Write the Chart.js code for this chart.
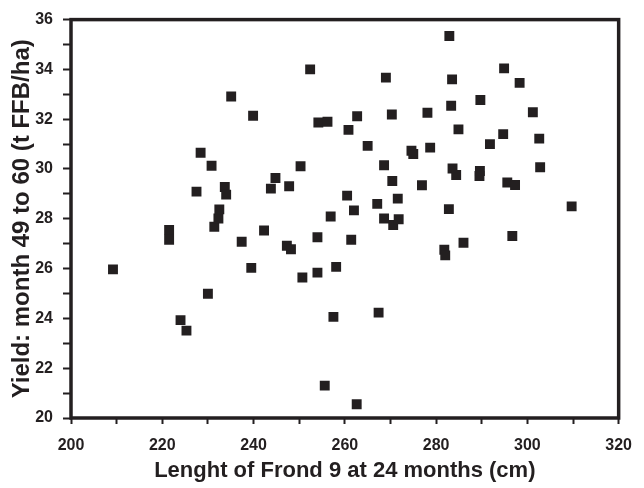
<!DOCTYPE html>
<html>
<head>
<meta charset="utf-8">
<script src="https://cdn.jsdelivr.net/npm/chart.js@4/dist/chart.umd.min.js"></script>
<style>
  html, body { margin: 0; padding: 0; background: #fff; }
  #grafico { display: block; }
</style>
</head>
<body>
<canvas id="grafico" width="644" height="488"></canvas>
<script>
// frond 9 length at 24 months (cm) and yield for months 49-60 (t FFB/ha)
const frondLength = [
    209.2, 221.5, 221.5, 224.0, 225.3, 227.5, 228.4, 230.0, 230.8, 231.4,
    232.3, 232.5, 233.7, 234.0, 235.1, 237.4, 239.5, 239.9, 242.3, 243.8,
    244.8, 247.3, 247.8, 248.2, 250.3, 250.7, 252.4, 254.0, 254.0, 254.2,
    255.6, 256.2, 256.9, 257.5, 258.1, 260.5, 260.8, 261.4, 262.0, 262.6,
    262.7, 265.0, 267.1, 267.4, 268.6, 268.6, 269.0, 270.3, 270.4, 270.6,
    271.6, 271.8, 274.6, 275.0, 276.9, 278.1, 278.7, 281.8, 282.0, 282.8,
    282.9, 283.3, 283.5, 283.6, 284.4, 284.9, 286.0, 289.5, 289.6, 289.7,
    291.8, 294.7, 294.9, 295.6, 296.7, 297.3, 298.3, 301.2, 302.6, 302.8,
    309.7
];
const yieldValues = [
    25.97, 27.55, 27.16, 23.93, 23.51, 29.09, 30.65, 24.99, 30.13, 27.68,
    28.01, 28.38, 29.28, 28.97, 32.91, 27.08, 26.03, 32.14, 27.53, 29.21,
    29.64, 26.92, 29.31, 26.78, 30.11, 25.64, 34.00, 27.26, 25.84, 31.87,
    21.30, 31.90, 28.09, 24.06, 26.07, 28.93, 31.57, 27.16, 28.34, 20.55,
    32.12, 30.93, 28.60, 24.23, 30.15, 28.01, 33.67, 32.19, 29.52, 27.75,
    28.81, 27.98, 30.73, 30.60, 29.35, 32.26, 30.86, 26.76, 26.53, 28.39,
    35.34, 32.54, 33.60, 30.02, 29.76, 31.59, 27.04, 29.72, 29.92, 32.77,
    31.00, 31.40, 34.04, 29.46, 27.31, 29.36, 33.46, 32.28, 31.22, 30.07,
    28.50
];

// axis ranges and labelled ticks
const xMin = 200, xMax = 320, xStep = 10;
const xLabels = [200, 220, 240, 260, 280, 300, 320];
const yMin = 20, yMax = 36, yStep = 1;
const yLabels = [20, 22, 24, 26, 28, 30, 32, 34, 36];

const tituloX = 'Lenght of Frond 9 at 24 months (cm)';
const tituloY = 'Yield: month 49 to 60 (t FFB/ha)';

const corTexto = '#231f20';

const pontos = frondLength.map((x, i) => ({ x: x, y: yieldValues[i] }));

// closed frame around the plot area
const moldura = {
    id: 'moldura',
    beforeDatasetsDraw(chart) {
        const { ctx, chartArea: a } = chart;
        ctx.save();
        ctx.strokeStyle = corTexto;
        ctx.lineWidth = 3.5;
        ctx.strokeRect(a.left, a.top, a.right - a.left, a.bottom - a.top);
        ctx.restore();
    }
};

const ctx = document.getElementById('grafico').getContext('2d');
new Chart(ctx, {
    type: 'scatter',
    data: {
        datasets: [{
            data: pontos,
            pointStyle: 'rect',
            pointRadius: 7,
            pointHoverRadius: 7,
            backgroundColor: corTexto,
            borderWidth: 0
        }]
    },
    options: {
        responsive: false,
        animation: false,
        devicePixelRatio: 1,
        layout: { padding: { top: 12, right: 23, left: 0, bottom: 0 } },
        plugins: { legend: { display: false }, tooltip: { enabled: false } },
        scales: {
            x: {
                type: 'linear',
                min: xMin,
                max: xMax,
                afterFit(scale) { scale.height = 70; },
                border: { display: false },
                grid: {
                    drawOnChartArea: false,
                    drawTicks: true,
                    tickLength: 6,
                    tickWidth: 2,
                    tickColor: corTexto
                },
                ticks: {
                    stepSize: xStep,
                    autoSkip: false,
                    maxRotation: 0,
                    padding: 12,
                    color: corTexto,
                    font: { family: 'Liberation Sans, Arial, sans-serif', size: 16, weight: 'bold' },
                    callback: v => xLabels.includes(v) ? String(v) : ''
                },
                title: {
                    display: true,
                    text: tituloX,
                    color: corTexto,
                    padding: { top: 0, bottom: 4 },
                    font: { family: 'Liberation Sans, Arial, sans-serif', size: 22, weight: 'bold' }
                }
            },
            y: {
                type: 'linear',
                min: yMin,
                max: yMax,
                afterFit(scale) { scale.width = 71; },
                border: { display: false },
                grid: {
                    drawOnChartArea: false,
                    drawTicks: true,
                    tickLength: 8,
                    tickWidth: 2,
                    tickColor: corTexto
                },
                ticks: {
                    stepSize: yStep,
                    autoSkip: false,
                    padding: 10,
                    color: corTexto,
                    font: { family: 'Liberation Sans, Arial, sans-serif', size: 16, weight: 'bold' },
                    callback: v => yLabels.includes(v) ? String(v) : ''
                },
                title: {
                    display: true,
                    text: tituloY,
                    color: corTexto,
                    padding: { top: 8, bottom: 0 },
                    font: { family: 'Liberation Sans, Arial, sans-serif', size: 24, weight: 'bold' }
                }
            }
        }
    },
    plugins: [moldura]
});
</script>
</body>
</html>
